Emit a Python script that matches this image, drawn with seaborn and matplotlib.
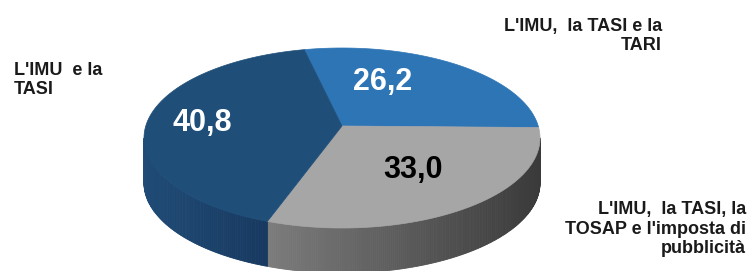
import numpy as np
import matplotlib
matplotlib.use("Agg")
import matplotlib.pyplot as plt
from matplotlib.patches import Polygon
import seaborn as sns

# Dati
categorie = ["L'IMU,  la TASI e la\nTARI",
             "L'IMU,  la TASI, la\nTOSAP e l'imposta di\npubblicità",
             "L'IMU  e la\nTASI"]
valori = [26.2, 33.0, 40.8]
etichette_valori = ["26,2", "33,0", "40,8"]

sns.set_theme(style="white")
plt.rcParams['font.family'] = ['Liberation Sans Narrow', 'Liberation Sans', 'DejaVu Sans']

# Colori (faccia superiore, lato sinistro, lato destro, colore testo)
col_top = ["#2e75b6", "#a6a6a6", "#1f4e79"]
col_side_a = ["#3a86c8", "#7c7c7c", "#1f4b76"]
col_side_b = ["#1f5a8e", "#3a3a3a", "#15345a"]
col_testo = ["white", "black", "white"]

fig = plt.figure(figsize=(7.5, 2.71), dpi=100)
ax = fig.add_axes([0, 0, 1, 1])
ax.set_xlim(0, 750)
ax.set_ylim(271, 0)
ax.axis('off')

# Geometria della torta 3D (in pixel)
cx, cy = 342, 138
rx, ry = 198, 90
apex = (342, 126)
depth = 45
start = 101

angoli = start - np.cumsum([0] + valori) / sum(valori) * 360

def punto(t):
    return cx + rx * np.cos(np.radians(t)), cy - ry * np.sin(np.radians(t))

# Lati (solo la metà anteriore), con sfumatura
for i in range(len(valori)):
    ts = np.linspace(angoli[i], angoli[i + 1], 200)
    xs = [punto(t)[0] for t in ts]
    xmin, xmax = min(xs), max(xs)
    for k in range(len(ts) - 1):
        t0, t1 = ts[k], ts[k + 1]
        if np.sin(np.radians((t0 + t1) / 2)) > 0:
            continue
        x0, y0 = punto(t0)
        x1, y1 = punto(t1)
        f = (x0 - xmin) / max(xmax - xmin, 1)
        c = np.array(matplotlib.colors.to_rgb(col_side_a[i])) * (1 - f) + \
            np.array(matplotlib.colors.to_rgb(col_side_b[i])) * f
        ax.add_patch(Polygon([(x0, y0), (x1, y1), (x1, y1 + depth), (x0, y0 + depth)],
                             closed=True, facecolor=c, edgecolor=c, lw=0.6))

# Faccia superiore
for i in range(len(valori)):
    ts = np.linspace(angoli[i], angoli[i + 1], 200)
    pts = [apex] + [punto(t) for t in ts]
    ax.add_patch(Polygon(pts, closed=True, facecolor=col_top[i],
                         edgecolor=col_top[i], lw=0.5))

# Etichette dei valori
pos_valori = [(383, 82), (413, 170), (202, 123)]
for (x, y), txt, c in zip(pos_valori, etichette_valori, col_testo):
    ax.text(x, y, txt, ha='center', va='center', fontsize=22,
            fontweight='bold', color=c)

# Etichette delle categorie
ax.text(662, 36, categorie[0], ha='right', va='center', fontsize=13,
        fontweight='bold', color='#1a1a1a', linespacing=1.2)
ax.text(746, 229, categorie[1], ha='right', va='center', fontsize=13,
        fontweight='bold', color='#1a1a1a', linespacing=1.2)
ax.text(14, 80, categorie[2], ha='left', va='center', fontsize=13,
        fontweight='bold', color='#1a1a1a', linespacing=1.2)

fig.savefig("out.png", dpi=100)
